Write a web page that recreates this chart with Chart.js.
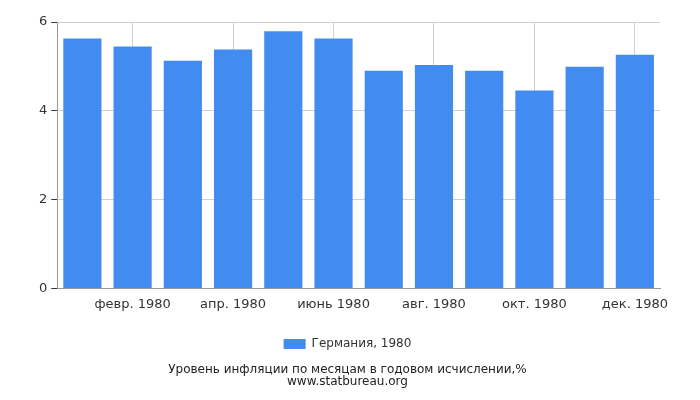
<!DOCTYPE html>
<html><head><meta charset="utf-8">
<script src="https://cdn.jsdelivr.net/npm/chart.js@4"></script>
<style>body{margin:0;background:#fff}#w{width:700px;height:400px;position:relative}</style>
</head><body><div id="w"><canvas id="c"></canvas></div>
<script>
const categories=['янв. 1980','февр. 1980','март 1980','апр. 1980','май 1980','июнь 1980','июль 1980','авг. 1980','сент. 1980','окт. 1980','нояб. 1980','дек. 1980'];
const values=[5.63,5.45,5.13,5.38,5.79,5.63,4.90,5.03,4.90,4.46,4.99,5.26];
const seriesName='Германия, 1980';
const yTicks=[0,2,4,6];
const font={family:'DejaVu Sans',size:13};
new Chart(document.getElementById('c'),{
type:'bar',
data:{labels:categories,datasets:[{label:seriesName,data:values,backgroundColor:'#428bf0',barPercentage:0.76,categoryPercentage:1}]},
options:{responsive:true,maintainAspectRatio:false,animation:false,
layout:{padding:{left:35,right:40,top:22,bottom:6}},
scales:{
x:{offset:true,grid:{offset:false,color:c=>c.index%2===1?'#d0d0d0':'rgba(0,0,0,0)',drawTicks:false},border:{color:'#999'},
ticks:{autoSkip:false,maxRotation:0,padding:8,color:'#333',font,callback:(v,i)=>i%2===1?categories[i]:''}},
y:{min:0,max:6,afterBuildTicks:a=>{a.ticks=yTicks.map(v=>({value:v}));},grid:{color:'#d0d0d0',tickLength:6,tickColor:'#333'},border:{color:'#999'},ticks:{color:'#333',font,padding:4}}
},
plugins:{legend:{position:'bottom',labels:{font:{family:'DejaVu Sans',size:12},color:'#333',boxWidth:22,boxHeight:10,padding:18}},
title:{display:true,position:'bottom',text:['Уровень инфляции по месяцам в годовом исчислении,%','www.statbureau.org'],font:{family:'DejaVu Sans',size:12,weight:'normal',lineHeight:1},color:'#222',padding:{top:4,bottom:6}},
tooltip:{enabled:false}}}
});
</script></body></html>
